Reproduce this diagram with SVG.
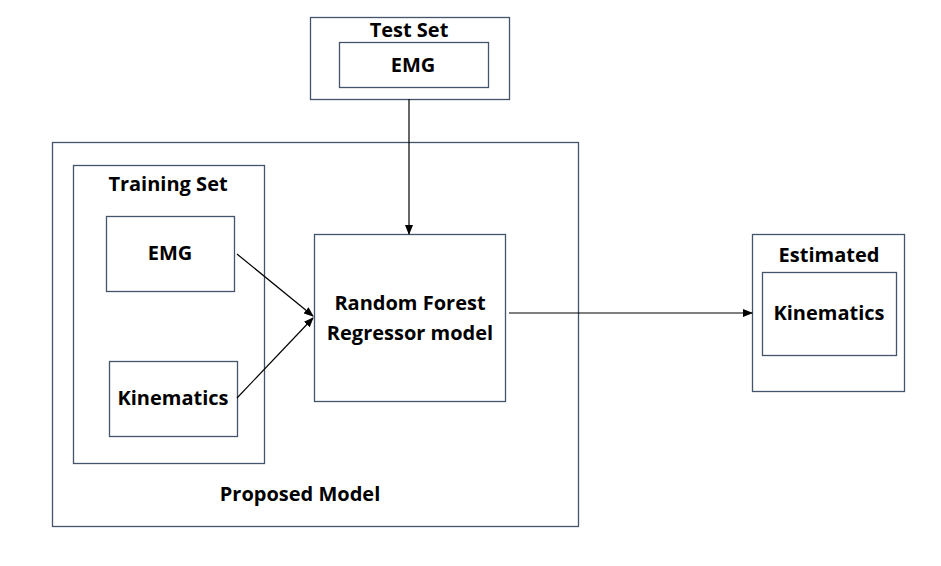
<svg xmlns="http://www.w3.org/2000/svg" width="941" height="566" viewBox="0 0 941 566">
<style>
.box{fill:none;stroke:#44546A;stroke-width:1.3}
.t{font-family:"Open Sans","Liberation Sans",sans-serif;font-weight:700;font-size:20px;fill:#000;text-anchor:middle}
.c{stroke:#000;stroke-width:1.2;fill:none}
</style>
<defs>
<marker id="ah" markerWidth="10" markerHeight="8" refX="9" refY="4" orient="auto" markerUnits="userSpaceOnUse">
<path d="M0,0 L10,4 L0,8 z" fill="#000"/>
</marker>
</defs>
<rect width="941" height="566" fill="#fff"/>
<g id="test-set">
<rect class="box" x="310.5" y="17.5" width="199" height="82"/>
<text class="t" x="409" y="37">Test Set</text>
</g>
<g id="test-emg">
<rect class="box" x="339.5" y="42.5" width="149" height="45"/>
<text class="t" x="413" y="72">EMG</text>
</g>
<g id="proposed-model">
<rect class="box" x="52.5" y="142.5" width="526" height="384"/>
<text class="t" x="300" y="501">Proposed Model</text>
</g>
<g id="training-set">
<rect class="box" x="73.5" y="165.5" width="191" height="298"/>
<text class="t" x="168" y="191">Training Set</text>
</g>
<g id="train-emg">
<rect class="box" x="106.5" y="216.5" width="128" height="75"/>
<text class="t" x="170" y="260">EMG</text>
</g>
<g id="train-kinematics">
<rect class="box" x="109.5" y="361.5" width="128" height="75"/>
<text class="t" x="173" y="405">Kinematics</text>
</g>
<g id="random-forest">
<rect class="box" x="314.5" y="234.5" width="191" height="167"/>
<text class="t" x="410" y="310">Random Forest</text>
<text class="t" x="410" y="340">Regressor model</text>
</g>
<g id="estimated">
<rect class="box" x="752.5" y="234.5" width="152" height="157"/>
<text class="t" x="829" y="262">Estimated</text>
</g>
<g id="est-kinematics">
<rect class="box" x="762.5" y="272.5" width="134" height="83"/>
<text class="t" x="829" y="320">Kinematics</text>
</g>
<g id="connectors">
<line class="c" x1="409" y1="99" x2="409" y2="234" marker-end="url(#ah)"/>
<line class="c" x1="237" y1="254" x2="313" y2="316" marker-end="url(#ah)"/>
<line class="c" x1="237" y1="398" x2="313" y2="318" marker-end="url(#ah)"/>
<line class="c" x1="509" y1="313" x2="752" y2="313" marker-end="url(#ah)"/>
</g>
</svg>
